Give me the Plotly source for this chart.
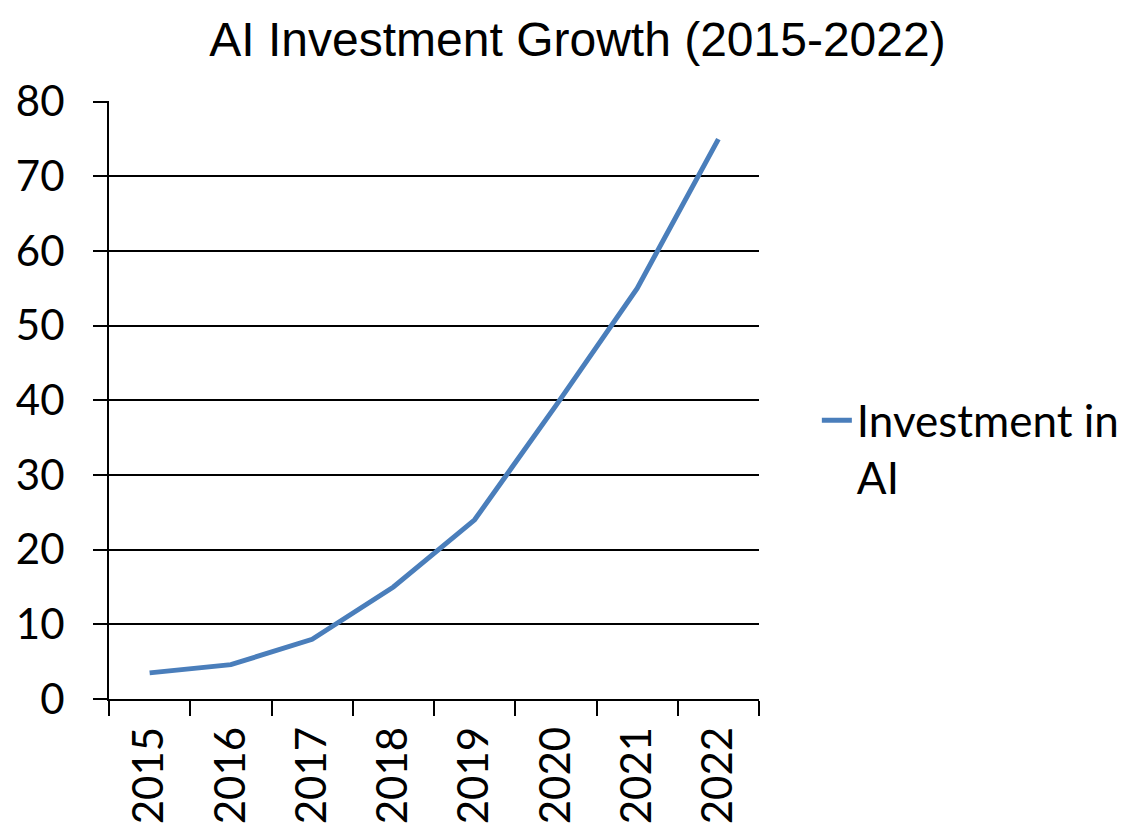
import plotly.graph_objects as go

years = ["2015", "2016", "2017", "2018", "2019", "2020", "2021", "2022"]
investment = [3.5, 4.6, 8, 15, 24, 39.3, 55, 75]
y_ticks = [0, 10, 20, 30, 40, 50, 60, 70, 80]
series_name = "Investment in<br>AI"
title_text = "AI Investment Growth (2015-2022)"

TICK_FONT = dict(family="Lato, Open Sans, sans-serif", size=42, color="black")
LEGEND_FONT = dict(family="Lato, Open Sans, sans-serif", size=44, color="black")

fig = go.Figure()
fig.add_trace(go.Scatter(
    x=years, y=investment, mode="lines", name=series_name,
    line=dict(color="#4A7EBB", width=5),
))

fig.update_layout(
    width=1130, height=828,
    margin=dict(l=101, r=379, t=93, b=137, autoexpand=False),
    paper_bgcolor="white", plot_bgcolor="white",
    title=dict(text=title_text, x=0.504, xanchor="center", y=0.962, yanchor="middle",
               font=dict(family="Liberation Sans, Arial, sans-serif", size=48, color="black")),
    showlegend=True,
    legend=dict(x=1.089, xanchor="left", y=0.525, yanchor="top", valign="top",
                font=LEGEND_FONT, bgcolor="rgba(0,0,0,0)", itemwidth=30, tracegroupgap=0),
)

fig.update_xaxes(
    type="category", tickson="boundaries", ticks="outside", ticklen=15,
    tickwidth=2, tickcolor="black", showgrid=False, showline=True,
    linecolor="black", linewidth=2, tickangle=-90, tickfont=TICK_FONT,
    ticklabelstandoff=9, range=[-0.5, 7.5], automargin=False,
)
fig.update_yaxes(
    range=[0, 80.1], tickvals=y_ticks, ticks="outside", ticklen=14, tickwidth=2,
    tickcolor="black", showgrid=True, gridcolor="black", gridwidth=2,
    showline=True, linecolor="black", linewidth=2, zeroline=False,
    tickfont=TICK_FONT, ticklabelstandoff=20, automargin=False,
)

fig.write_html("out.html")
